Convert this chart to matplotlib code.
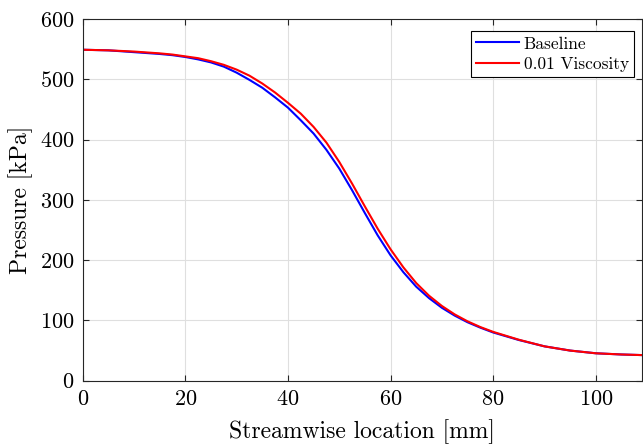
import matplotlib
matplotlib.use('Agg')
import matplotlib.pyplot as plt

# streamwise location [mm]
x_mm = [0, 5, 10, 15, 17.5, 20, 22.5, 25, 27.5, 30, 32.5, 35, 37.5, 40, 42.5, 45, 47.5, 50,
        52.5, 55, 57.5, 60, 62.5, 65, 67.5, 70, 72.5, 75, 77.5, 80, 85, 90,
        95, 100, 105, 109]

# pressure [kPa]
p_baseline = [549, 548, 545, 542, 540, 537, 533, 528, 521, 511, 499, 486, 470, 453, 432, 410, 383, 352,
              316, 278, 241, 208, 180, 156, 137, 121, 108, 97, 88, 80, 67.5, 57,
              50, 45.5, 43.5, 42.5]
p_visc = [549, 548, 546, 543, 541, 538, 535, 530, 524, 516, 506, 493, 478, 461, 443, 421, 395, 363,
          327, 289, 252, 218, 188, 162, 141, 124, 110, 98.5, 89, 81, 68, 57,
          50, 45.5, 43.5, 42.5]

plt.rcParams['font.family'] = 'cmr10'
plt.rcParams['mathtext.fontset'] = 'cm'
plt.rcParams['axes.formatter.use_mathtext'] = True

fig = plt.figure(figsize=(6.43, 4.47), dpi=100)
ax = fig.add_axes([0.1286, 0.1483, 0.8698, 0.8092])

ax.plot(x_mm, p_baseline, color='#0000ff', lw=1.5, label='Baseline')
ax.plot(x_mm, p_visc, color='#ff0000', lw=1.5, label='0.01 Viscosity')

ax.set_xlim(0, 109)
ax.set_ylim(0, 600)
ax.set_xticks([0, 20, 40, 60, 80, 100])
ax.set_yticks([0, 100, 200, 300, 400, 500, 600])

ax.grid(True, color='#dfdfdf', lw=0.8)
ax.set_axisbelow(True)
ax.tick_params(direction='in', top=True, right=True, labelsize=16, pad=6,
               color='#262626', length=4, width=0.8)
for s in ax.spines.values():
    s.set_color('#262626')
    s.set_linewidth(0.8)

ax.set_xlabel('Streamwise location [mm]', fontsize=17, labelpad=8)
ax.set_ylabel('Pressure [kPa]', fontsize=17, labelpad=5)

leg = ax.legend(loc='upper right', bbox_to_anchor=(0.9857, 0.9668), borderaxespad=0,
                fontsize=12.5, fancybox=False, framealpha=1, edgecolor='black',
                handlelength=2.5, handletextpad=0.25, borderpad=0.3, labelspacing=0.3)
leg.get_frame().set_linewidth(0.8)

fig.savefig('out.png', dpi=100)
